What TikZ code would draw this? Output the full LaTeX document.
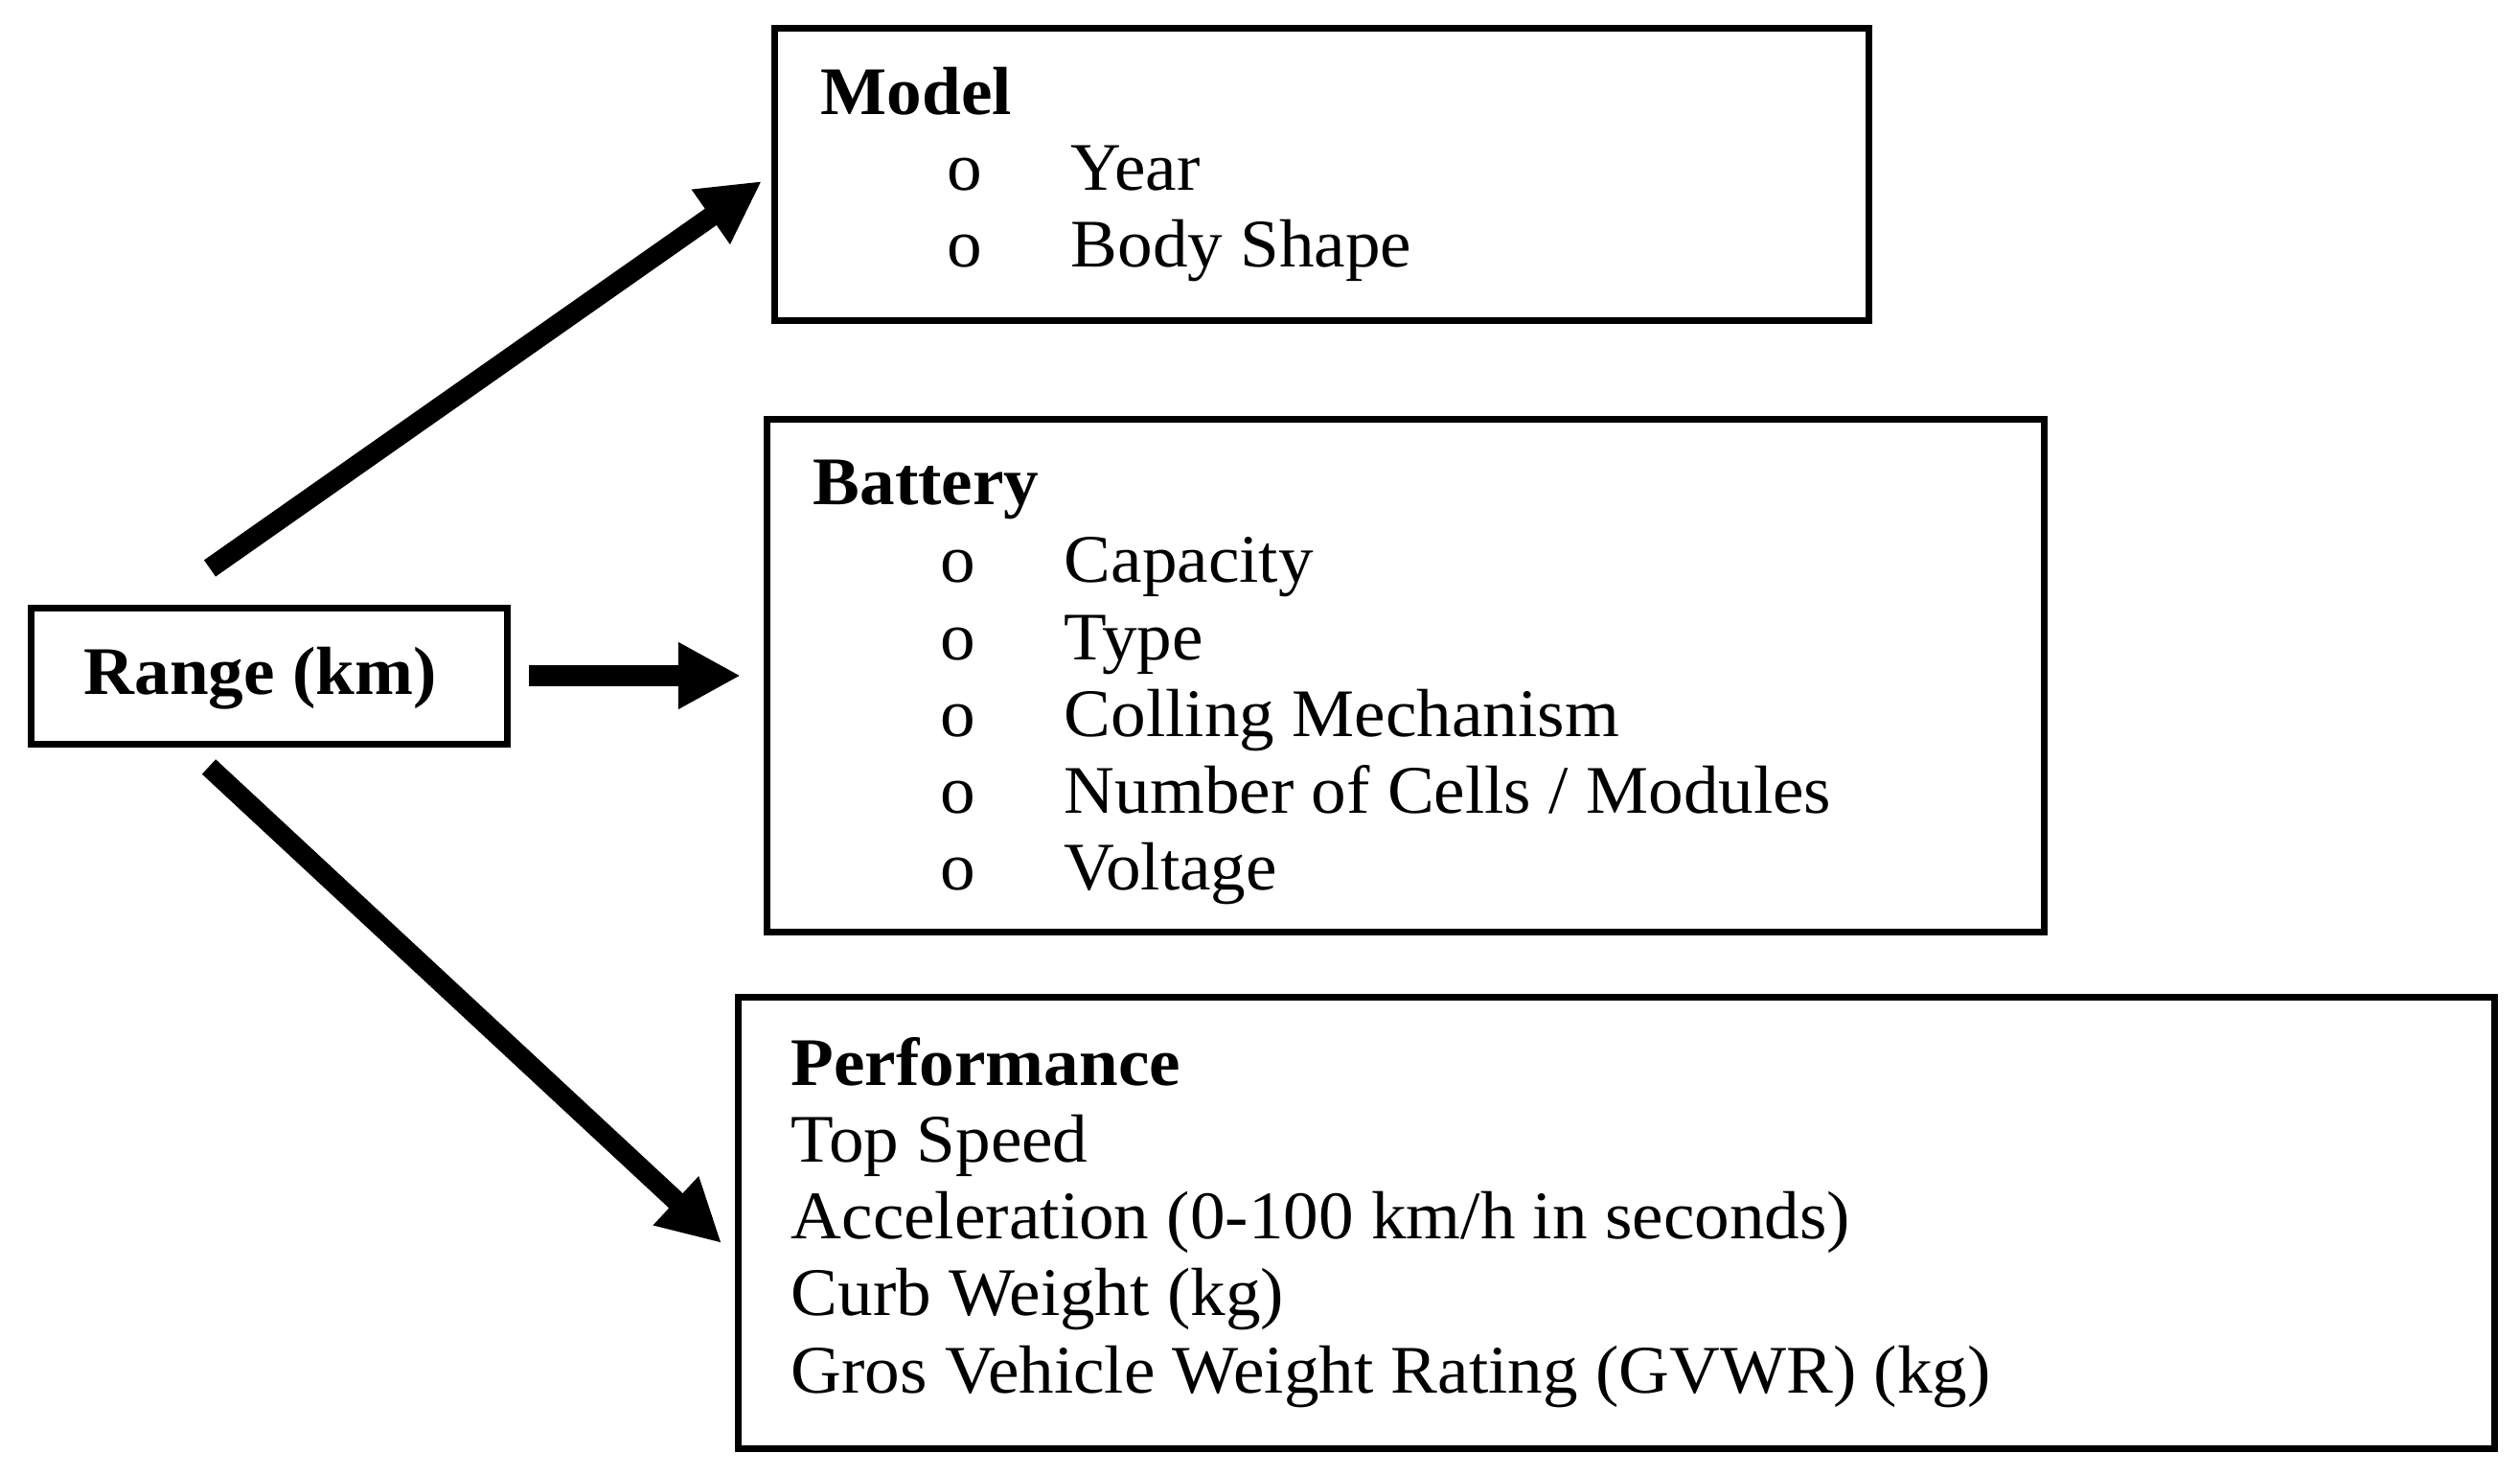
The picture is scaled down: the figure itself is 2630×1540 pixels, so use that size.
\documentclass[tikz,border=0pt]{standalone}
\usepackage{fontspec}
\setmainfont{Liberation Serif}[FakeStretch=1.03]
\usetikzlibrary{arrows.meta}
\begin{document}
\begin{tikzpicture}[x=0.01cm,y=-0.01cm,
  box/.style={draw=black,line width=0.07cm,line join=miter,rectangle,inner sep=0pt},
  txt/.style={anchor=base west,inner sep=0pt,font=\fontsize{20.2}{22}\selectfont},
  head/.style={txt,font=\fontsize{20.2}{22}\selectfont\bfseries},
  bul/.style={anchor=base,inner sep=0pt,font=\fontsize{20.2}{22}\selectfont},
  bigarrow/.style={line width=0.21cm,-{Triangle[length=0.65cm,width=0.65cm]}}]
\useasboundingbox (0,0) rectangle (2630,1540);
\fill[white] (0,0) rectangle (2630,1540);
% boxes
\node[box,minimum width=4.97cm,minimum height=1.42cm] (range) at (281,705.5) {};
\node[box,minimum width=11.42cm,minimum height=3.05cm] (model) at (1379.5,182) {};
\node[box,minimum width=13.33cm,minimum height=5.35cm] (battery) at (1467,705) {};
\node[box,minimum width=18.31cm,minimum height=4.71cm] (perf) at (1687,1276) {};
% range text
\node[head] (rangetxt) at (87,725) {Range (km)};
% model
\node[head] (mh) at (856,120) {Model};
\node[bul] (mb1) at (1007,199) {o};
\node[txt] (m1) at (1117,199) {Year};
\node[bul] (mb2) at (1007,279) {o};
\node[txt] (m2) at (1117,279) {Body Shape};
% battery
\node[head] (bh) at (848,527) {Battery};
\node[bul] (bb1) at (1000,608) {o};
\node[txt] (b1) at (1110,608) {Capacity};
\node[bul] (bb2) at (1000,689) {o};
\node[txt] (b2) at (1110,689) {Type};
\node[bul] (bb3) at (1000,768) {o};
\node[txt] (b3) at (1110,768) {Colling Mechanism};
\node[bul] (bb4) at (1000,848) {o};
\node[txt] (b4) at (1110,848) {Number of Cells / Modules};
\node[bul] (bb5) at (1000,928) {o};
\node[txt] (b5) at (1110,928) {Voltage};
% performance
\node[head] (ph) at (825,1132) {Performance};
\node[txt] (p1) at (825,1212) {Top Speed};
\node[txt] (p2) at (825,1292) {Acceleration (0-100 km/h in seconds)};
\node[txt] (p3) at (825,1372) {Curb Weight (kg)};
\node[txt] (p4) at (825,1453) {Gros Vehicle Weight Rating (GVWR) (kg)};
% arrow end points
\coordinate (upTail) at (219,593);
\coordinate (upTip) at (795,189);
\coordinate (rtTail) at (552,705);
\coordinate (rtTip) at (773,705);
\coordinate (dnTail) at (218,800);
\coordinate (dnTip) at (753,1297);
\draw[bigarrow] (upTail) -- (upTip);
\draw[bigarrow] (rtTail) -- (rtTip);
\draw[bigarrow] (dnTail) -- (dnTip);
\end{tikzpicture}
\end{document}
